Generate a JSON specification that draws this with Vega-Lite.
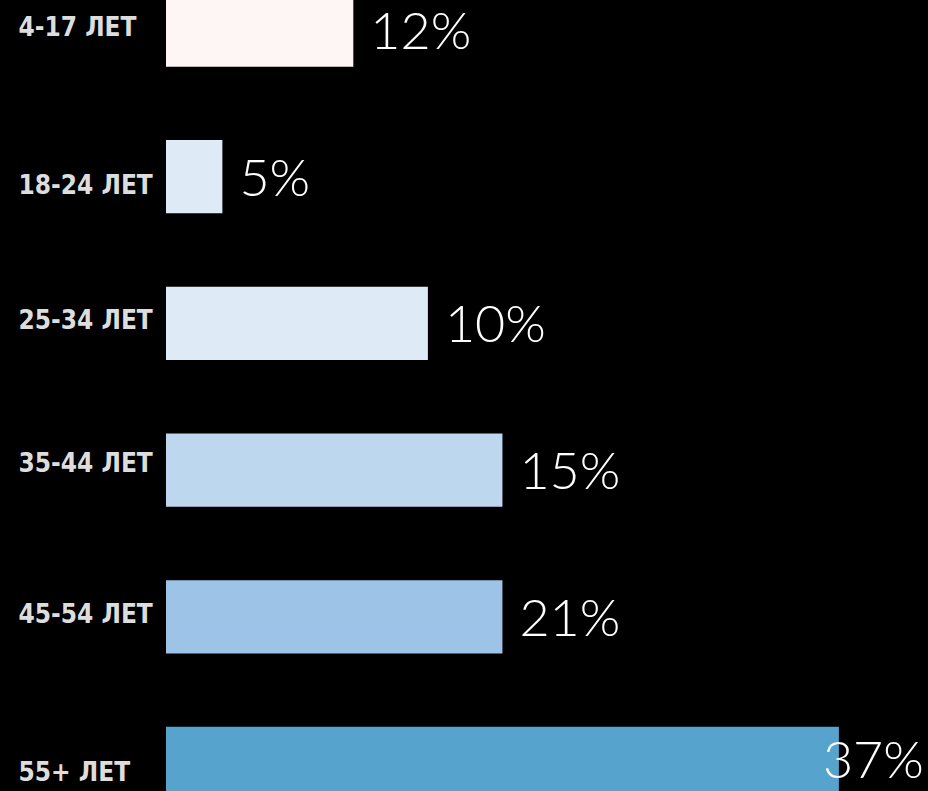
{
  "$schema": "https://vega.github.io/schema/vega-lite/v6.json",
  "width": 762,
  "height": 791,
  "autosize": {"type": "none"},
  "padding": {"left": 166, "top": 0, "right": 0, "bottom": 0},
  "background": "#000000",
  "config": {"view": {"stroke": null}},
  "data": {
    "values": [
      {"age": "4-17 ЛЕТ", "bar": 10.3, "label": "12%", "color": "#fef5f5"},
      {"age": "18-24 ЛЕТ", "bar": 3.1, "label": "5%", "color": "#deebf7"},
      {"age": "25-34 ЛЕТ", "bar": 14.4, "label": "10%", "color": "#deebf7"},
      {"age": "35-44 ЛЕТ", "bar": 18.5, "label": "15%", "color": "#bdd7ee"},
      {"age": "45-54 ЛЕТ", "bar": 18.5, "label": "21%", "color": "#9dc3e6"},
      {"age": "55+ ЛЕТ", "bar": 37, "label": "37%", "color": "#56a4ce"}
    ]
  },
  "encoding": {
    "y": {
      "field": "age",
      "type": "nominal",
      "sort": null,
      "scale": {"range": [-6.7, 800.2], "paddingInner": 0.5, "paddingOuter": 0},
      "axis": {
        "title": null,
        "ticks": false,
        "tickSize": 0,
        "domain": false,
        "grid": false,
        "zindex": 1,
        "labelAlign": "left",
        "labelBaseline": "middle",
        "labelPadding": 148,
        "labelOffset": {
          "condition": [
            {"test": "datum.value === '18-24 ЛЕТ' || datum.value === '55+ ЛЕТ'", "value": 9},
            {"test": "datum.value === '35-44 ЛЕТ'", "value": -6}
          ],
          "value": -2
        },
        "labelFont": "DejaVu Sans Condensed, sans-serif",
        "labelFontWeight": "bold",
        "labelFontSize": 26,
        "labelColor": "#dddddd",
        "labelLimit": 200
      }
    },
    "x": {
      "field": "bar",
      "type": "quantitative",
      "scale": {"domain": [0, 41.9], "nice": false, "zero": true},
      "axis": null
    }
  },
  "layer": [
    {
      "mark": {"type": "bar"},
      "encoding": {
        "color": {"field": "color", "type": "nominal", "scale": null, "legend": null}
      }
    },
    {
      "transform": [{"filter": "datum.age !== '55+ ЛЕТ'"}],
      "mark": {
        "type": "text",
        "align": "left",
        "baseline": "middle",
        "dx": 17,
        "dy": 3,
        "font": "Lato, Open Sans, sans-serif",
        "fontWeight": 300,
        "fontSize": 52,
        "color": "#ffffff"
      },
      "encoding": {"text": {"field": "label"}}
    },
    {
      "transform": [{"filter": "datum.age === '55+ ЛЕТ'"}],
      "mark": {
        "type": "text",
        "align": "left",
        "baseline": "middle",
        "dx": -16,
        "dy": -2,
        "font": "Lato, Open Sans, sans-serif",
        "fontWeight": 300,
        "fontSize": 52,
        "color": "#ffffff"
      },
      "encoding": {"text": {"field": "label"}}
    }
  ]
}
